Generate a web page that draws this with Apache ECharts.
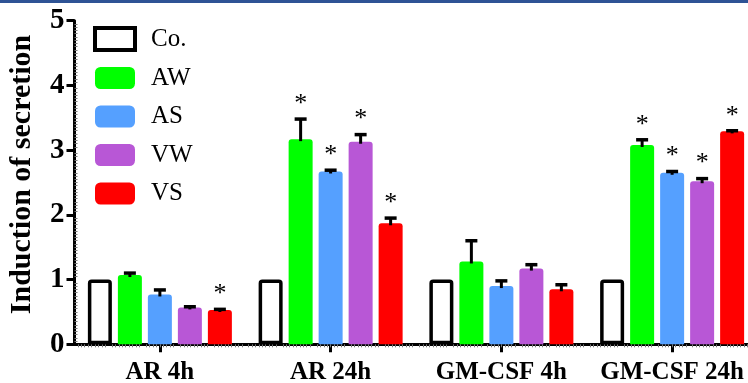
<!DOCTYPE html>
<html>
<head>
<meta charset="utf-8">
<script src="https://cdn.jsdelivr.net/npm/echarts@6/dist/echarts.min.js"></script>
<style>html,body{margin:0;padding:0;background:#fff}#c{width:748px;height:383px}</style>
</head>
<body>
<div id="c"></div>
<script>
const categories = ['AR 4h', 'AR 24h', 'GM-CSF 4h', 'GM-CSF 24h'];
const seriesNames = ['Co.', 'AW', 'AS', 'VW', 'VS'];
const yTicks = [0, 1, 2, 3, 4, 5];

const coValues = [1, 1, 1, 1];
const awValues = [1.07, 3.17, 1.28, 3.08];
const asValues = [0.77, 2.67, 0.90, 2.65];
const vwValues = [0.57, 3.13, 1.17, 2.52];
const vsValues = [0.53, 1.87, 0.85, 3.29];

const coErr = [0, 0, 0, 0];
const awErr = [0.03, 0.31, 0.32, 0.08];
const asErr = [0.07, 0.02, 0.08, 0.02];
const vwErr = [0.01, 0.11, 0.06, 0.04];
const vsErr = [0.01, 0.08, 0.07, 0.01];

const coSig = [false, false, false, false];
const awSig = [false, true, false, true];
const asSig = [false, true, false, true];
const vwSig = [false, true, false, true];
const vsSig = [true, true, false, true];

const values = [coValues, awValues, asValues, vwValues, vsValues];
const errors = [coErr, awErr, asErr, vwErr, vsErr];
const sigs = [coSig, awSig, asSig, vwSig, vsSig];
const colors = ['#ffffff', '#00ff00', '#55a0ff', '#b857d6', '#ff0000'];

const BAR_W = 24;
const BAR_GAP = 0.25;
const PITCH = BAR_W * (1 + BAR_GAP);
const FONT = '"Liberation Serif", "Times New Roman", serif';

const chart = echarts.init(document.getElementById('c'), null, {renderer: 'canvas'});

const series = [];
seriesNames.forEach((name, si) => {
  const isCo = si === 0;
  series.push({
    name: name,
    type: 'bar',
    barWidth: BAR_W,
    barGap: (BAR_GAP * 100) + '%',
    data: values[si],
    itemStyle: isCo
      ? {color: '#ffffff', borderColor: '#000000', borderWidth: 3.5, borderRadius: [2, 2, 0, 0]}
      : {color: colors[si], borderRadius: [3, 3, 0, 0]},
    z: 2
  });
});

seriesNames.forEach((name, si) => {
  if (si === 0) return;
  const data = categories.map((c, ci) => [ci, values[si][ci], errors[si][ci], sigs[si][ci] ? 1 : 0]);
  const offset = (si - (seriesNames.length - 1) / 2) * PITCH;
  series.push({
    type: 'custom',
    name: name + ' err',
    data: data,
    z: 5,
    silent: true,
    encode: {x: 0, y: 1},
    renderItem: function (params, api) {
      const ci = api.value(0);
      const v = api.value(1);
      const e = api.value(2);
      const sig = api.value(3);
      const base = api.coord([ci, v]);
      const top = api.coord([ci, v + e]);
      const x = base[0] + offset;
      const children = [];
      children.push({
        type: 'line',
        shape: {x1: x, y1: base[1] + 2, x2: x, y2: top[1]},
        style: {stroke: '#000', lineWidth: 3}
      });
      children.push({
        type: 'line',
        shape: {x1: x - 6, y1: top[1], x2: x + 6, y2: top[1]},
        style: {stroke: '#000', lineWidth: 3.5}
      });
      if (sig) {
        children.push({
          type: 'text',
          style: {
            text: '*', x: x, y: top[1] - 2,
            align: 'center', verticalAlign: 'bottom',
            font: '26px ' + FONT, fill: '#000'
          }
        });
      }
      return {type: 'group', children: children};
    }
  });
});

const option = {
  backgroundColor: '#ffffff',
  animation: false,
  graphic: [{
    type: 'rect', left: 0, top: 0, shape: {width: 748, height: 3},
    style: {fill: '#2e5395'}, z: 100
  }],
  legend: {
    orient: 'vertical',
    left: 93,
    top: 26,
    padding: 0,
    itemWidth: 40,
    itemHeight: 22,
    itemGap: 13.5,
    selectedMode: false,
    textStyle: {fontFamily: FONT, fontSize: 25, color: '#000', lineHeight: 22, padding: [0, 0, 0, 11]},
    data: [
      {name: 'Co.', icon: 'rect', itemStyle: {color: '#fff', borderColor: '#000', borderWidth: 4}},
      {name: 'AW', icon: 'roundRect', itemStyle: {color: colors[1], borderWidth: 0}},
      {name: 'AS', icon: 'roundRect', itemStyle: {color: colors[2], borderWidth: 0}},
      {name: 'VW', icon: 'roundRect', itemStyle: {color: colors[3], borderWidth: 0}},
      {name: 'VS', icon: 'roundRect', itemStyle: {color: colors[4], borderWidth: 0}}
    ]
  },
  grid: {left: 74.5, top: 20.7, width: 683, height: 323.6, containLabel: false, outerBoundsMode: 'none'},
  xAxis: [{
    type: 'category',
    data: categories,
    axisLine: {show: true, lineStyle: {color: '#000', width: 3}},
    axisTick: {show: true, alignWithLabel: true, length: 8, lineStyle: {color: '#000', width: 3}},
    axisLabel: {interval: 0, margin: 16, fontFamily: FONT, fontWeight: 'bold', fontSize: 25, color: '#000'},
    splitLine: {show: false}
  }, {
    type: 'value',
    position: 'bottom',
    min: 0, max: 20, interval: 1,
    axisLine: {show: false},
    axisTick: {show: false},
    axisLabel: {show: false},
    splitLine: {show: false},
    minorTick: {show: true, splitNumber: 10, length: 3, lineStyle: {color: '#777', width: 1}}
  }],
  yAxis: [{
    type: 'value',
    min: yTicks[0],
    max: yTicks[yTicks.length - 1],
    interval: 1,
    name: 'Induction of secretion',
    nameLocation: 'middle',
    nameGap: 37,
    nameTextStyle: {fontFamily: FONT, fontWeight: 'bold', fontSize: 30, color: '#000', padding: [0, 0, 0, 16]},
    axisLine: {show: true, lineStyle: {color: '#000', width: 3}},
    axisTick: {show: true, length: 8, lineStyle: {color: '#000', width: 3}},
    axisLabel: {margin: 10, fontFamily: FONT, fontWeight: 'bold', fontSize: 29, color: '#000'},
    splitLine: {show: false}
  }, {
    type: 'value',
    position: 'left',
    min: yTicks[0],
    max: yTicks[yTicks.length - 1],
    interval: 1,
    axisLine: {show: false},
    axisTick: {show: false, inside: true},
    axisLabel: {show: false},
    splitLine: {show: false},
    minorTick: {show: true, splitNumber: 20, length: 3, lineStyle: {color: '#777', width: 1}}
  }],
  series: series
};
chart.setOption(option);
</script>
</body>
</html>
